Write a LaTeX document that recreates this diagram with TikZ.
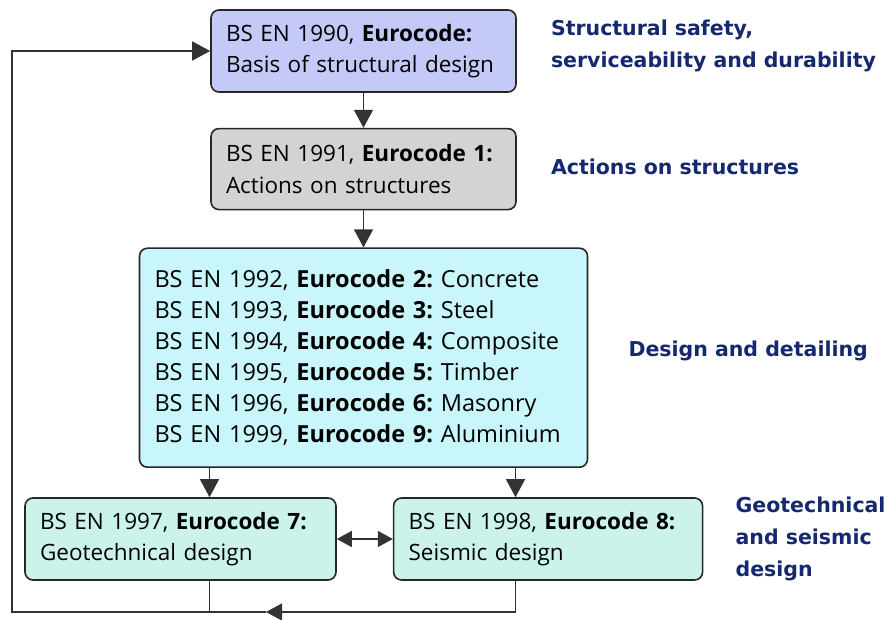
\documentclass[tikz,border=0pt]{standalone}
\usepackage{fontspec}
\setmainfont{Open Sans}
\newfontfamily\labelfont{DejaVu Sans}
\usetikzlibrary{positioning,arrows.meta}
\frenchspacing
\definecolor{basisfill}{RGB}{197,201,247}
\definecolor{actionfill}{RGB}{211,211,214}
\definecolor{designfill}{RGB}{200,246,251}
\definecolor{geofill}{RGB}{203,243,236}
\definecolor{navy}{RGB}{22,40,110}
\tikzstyle{codebox}=[draw=black!85,line width=1.6pt,rounded corners=8pt,
  fill=basisfill,align=left,inner xsep=15pt,inner ysep=0pt,
  font=\fontsize{22.5}{31.5}\selectfont]
\tikzstyle{area}=[inner sep=0pt,align=left,text=navy,
  font=\labelfont\bfseries\fontsize{20.5}{32}\selectfont]
\tikzstyle{line}=[draw=black!80,line width=1.4pt]
\tikzstyle{arr}=[line,-{Triangle[length=18pt,width=19pt]}]
\begin{document}
\begin{tikzpicture}[x=1pt,y=1pt]
  \useasboundingbox (0,0) rectangle (893,620);
  \node[codebox,text width=275pt,minimum height=82pt] (b1) at (363.5,569)
    {BS EN 1990, \textbf{Eurocode:}\\Basis of structural design};
  \node[codebox,fill=actionfill,text width=275pt,minimum height=81pt,below=35pt of b1] (b2)
    {BS EN 1991, \textbf{Eurocode 1:}\\Actions on structures};
  \node[codebox,fill=designfill,text width=418pt,minimum height=219pt,below=37pt of b2,
    font=\fontsize{23.5}{31}\selectfont] (b3)
    {BS EN 1992, \textbf{Eurocode 2:} Concrete\\
     BS EN 1993, \textbf{Eurocode 3:} Steel\\
     BS EN 1994, \textbf{Eurocode 4:} Composite\\
     BS EN 1995, \textbf{Eurocode 5:} Timber\\
     BS EN 1996, \textbf{Eurocode 6:} Masonry\\
     BS EN 1999, \textbf{Eurocode 9:} Aluminium};
  \node[codebox,fill=geofill,text width=281pt,minimum height=82pt] (b4) at (180.5,81)
    {BS EN 1997, \textbf{Eurocode 7:}\\Geotechnical design};
  \node[codebox,fill=geofill,text width=279pt,minimum height=82pt,right=56pt of b4] (b5)
    {BS EN 1998, \textbf{Eurocode 8:}\\Seismic design};

  % area labels on the right
  \node[area,right=34pt of b1,yshift=5pt] (l1) {Structural safety,\\serviceability and durability};
  \node[area,right=34pt of b2,yshift=2pt] (l2) {Actions on structures};
  \node[area,right=40pt of b3,yshift=7pt] (l3) {Design and detailing};
  \node[area,right=32pt of b5] (l4) {Geotechnical\\and seismic\\design};

  % connectors
  \coordinate (c4) at ([xshift=-154pt]b3.south);
  \coordinate (c5) at ([xshift=152pt]b3.south);
  \coordinate (corner) at (12,8);
  \coordinate (back) at (266,8);
  \draw[arr] (b1) -- (b2);
  \draw[arr] (b2) -- (b3);
  \draw[arr] (c4) -- (c4 |- b4.north);
  \draw[arr] (c5) -- (c5 |- b5.north);
  \draw[line,{Triangle[length=15pt,width=16pt]}-{Triangle[length=15pt,width=16pt]}] (b4) -- (b5);
  \draw[line] (c4 |- b4.south) -- (c4 |- corner);
  \draw[line,-{Triangle[length=16pt,width=17pt]}] (c5 |- b5.south) -- (c5 |- corner) -- (back);
  \draw[arr] (back) -- (corner) |- (b1.west);
\end{tikzpicture}
\end{document}
